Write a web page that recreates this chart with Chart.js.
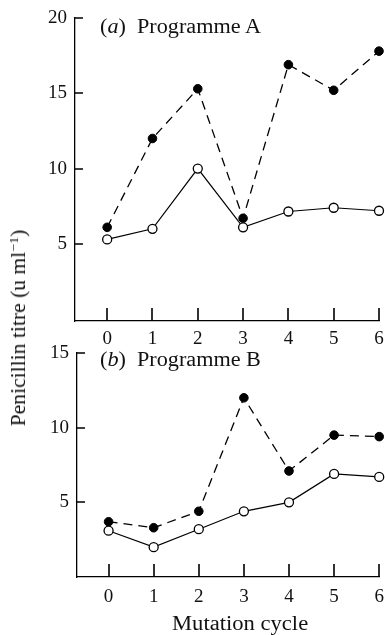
<!DOCTYPE html>
<html><head><meta charset="utf-8">
<script src="https://cdn.jsdelivr.net/npm/chart.js@4/dist/chart.umd.min.js"></script>
<style>
html,body{margin:0;padding:0;background:#fff;width:385px;height:635px;overflow:hidden;position:relative;font-family:"Liberation Serif","Times New Roman",serif;color:#111}
.box{position:absolute;left:0;width:385px}
#boxA{top:0;height:350px}
#boxB{top:330px;height:305px}
.lbl{position:absolute;white-space:nowrap;font-size:20px;line-height:20px;transform-origin:0 0}
sup{font-size:13px;position:relative;top:-7px;vertical-align:baseline;line-height:0}
</style></head><body>
<div class="box" id="boxA"><canvas id="cA"></canvas></div>
<div class="box" id="boxB"><canvas id="cB"></canvas></div>
<div class="lbl" style="left:100px;top:16px;transform:scaleX(1.11)">(<i>a</i>)&nbsp; Programme A</div>
<div class="lbl" style="left:100px;top:349px;transform:scaleX(1.11)">(<i>b</i>)&nbsp; Programme B</div>
<div class="lbl" style="left:172px;top:613px;transform:scaleX(1.13)">Mutation cycle</div>
<div class="lbl" style="left:18px;top:328px;transform-origin:50% 50%;transform:translate(-50%,-50%) rotate(-90deg) scaleX(1.08)">Penicillin titre (u ml<sup>−1</sup>)</div>
<script>
const cycles = [0, 1, 2, 3, 4, 5, 6];
const progA_filled = [6.1, 12.0, 15.3, 6.7, 16.9, 15.2, 17.8];
const progA_open   = [5.3, 6.0, 10.0, 6.1, 7.15, 7.4, 7.2];
const progB_filled = [3.7, 3.3, 4.4, 12.0, 7.1, 9.5, 9.4];
const progB_open   = [3.1, 2.0, 3.2, 4.4, 5.0, 6.9, 6.7];
const yTicksA = [5, 10, 15, 20];
const yTicksB = [5, 10, 15];
const xTicks = cycles;

const INK = '#000';
const inwardTicks = {
  id: 'inwardTicks',
  afterDatasetsDraw(chart) {
    const ctx = chart.ctx, x = chart.scales.x, y = chart.scales.y, a = chart.chartArea;
    ctx.save();
    ctx.setLineDash([]);
    ctx.strokeStyle = INK; ctx.lineWidth = 1.6;
    ctx.beginPath();
    x.ticks.forEach(t => { const px = Math.round(x.getPixelForValue(t.value)); ctx.moveTo(px, a.bottom); ctx.lineTo(px, a.bottom - 13); });
    y.ticks.forEach(t => { const py = Math.round(y.getPixelForValue(t.value)); ctx.moveTo(a.left, py); ctx.lineTo(a.left + 8, py); });
    ctx.stroke();
    ctx.restore();
  }
};

function toXY(arr) { return cycles.map((c, i) => ({ x: c, y: arr[i] })); }

function makeChart(id, filled, open, yMin, yMax, yTicks, g) {
  return new Chart(document.getElementById(id), {
    type: 'line',
    data: {
      datasets: [
        { data: toXY(open), borderColor: INK, borderWidth: 1.2, backgroundColor: '#fff',
          pointBackgroundColor: '#fff', pointBorderColor: INK, pointBorderWidth: 1.3, pointRadius: 4.5, clip: false },
        { data: toXY(filled), borderColor: INK, borderWidth: 1.3, borderDash: [9, 6], backgroundColor: INK,
          pointBackgroundColor: INK, pointBorderColor: INK, pointBorderWidth: 1, pointRadius: 4.3, clip: false }
      ]
    },
    plugins: [inwardTicks],
    options: {
      responsive: true, maintainAspectRatio: false, animation: false, devicePixelRatio: 1,
      layout: { padding: g.pad },
      plugins: { legend: { display: false }, tooltip: { enabled: false } },
      scales: {
        x: {
          type: 'linear', min: g.xMin, max: 6,
          afterBuildTicks: s => { s.ticks = xTicks.map(v => ({ value: v })); },
          afterFit: s => { s.height = g.xH; s.paddingLeft = 0; s.paddingRight = 0; },
          grid: { display: true, drawOnChartArea: false, drawTicks: false },
          border: { display: true, color: INK, width: 1.3 },
          ticks: { color: '#111', padding: g.xPad, maxRotation: 0, autoSkip: false,
                   font: { family: 'Liberation Serif', size: 19 } }
        },
        y: {
          min: yMin, max: yMax,
          afterBuildTicks: s => { s.ticks = yTicks.map(v => ({ value: v })); },
          afterFit: s => { s.width = g.yW; s.paddingTop = 0; s.paddingBottom = 0; },
          grid: { display: true, drawOnChartArea: false, drawTicks: false },
          border: { display: true, color: INK, width: 1.3 },
          ticks: { color: '#111', padding: 8, font: { family: 'Liberation Serif', size: 19 } }
        }
      }
    }
  });
}

makeChart('cA', progA_filled, progA_open, -0.12, 20, yTicksA,
  { pad: { left: 0, top: 18, right: 6, bottom: 0 }, yW: 75, xH: 29, xMin: -0.71, xPad: 7 });
makeChart('cB', progB_filled, progB_open, 0, 15, yTicksB,
  { pad: { left: 0, top: 23, right: 5.5, bottom: 0 }, yW: 77, xH: 58, xMin: -0.7, xPad: 9 });
</script>
</body></html>
